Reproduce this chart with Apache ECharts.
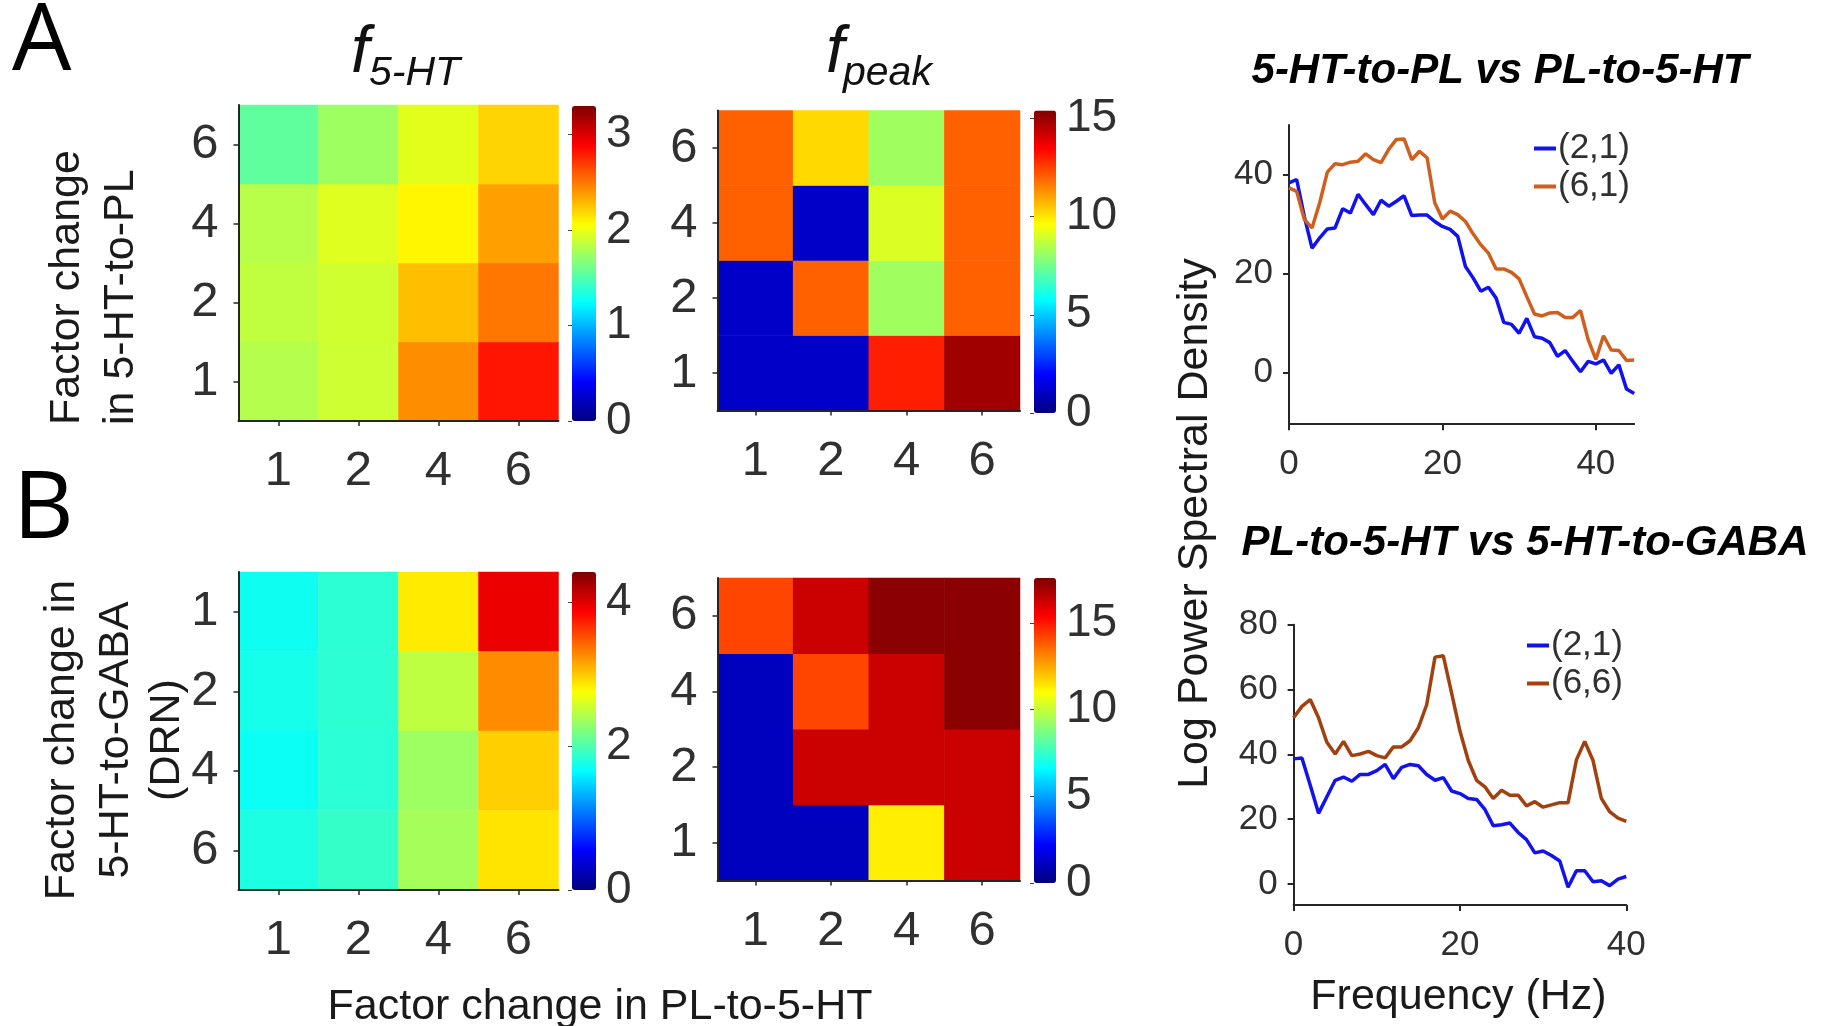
<!DOCTYPE html>
<html><head><meta charset="utf-8">
<script src="https://cdn.jsdelivr.net/npm/echarts@6/dist/echarts.min.js"></script>
<style>html,body{margin:0;padding:0;background:#fff}#c{width:1824px;height:1026px}</style>
</head><body><div id="c"></div>
<script>
// ---------------- data ----------------
const heatCols = ['1', '2', '4', '6'];   // Factor change in PL-to-5-HT
const heatRows = ['1', '2', '4', '6'];   // rows in this order, columns in heatCols order

const f5htA = [
  [1.82, 1.90, 2.43, 2.82],
  [1.86, 1.91, 2.27, 2.50],
  [1.83, 1.96, 2.09, 2.37],
  [1.55, 1.75, 1.97, 2.20]
];
const fpeakA = [
  [1.1, 1.1, 13.0, 14.9],
  [1.1, 12.0, 8.2, 12.0],
  [12.0, 1.1, 9.1, 12.0],
  [12.0, 10.2, 8.2, 12.0]
];
const f5htB = [
  [1.72, 1.85, 2.85, 3.95],
  [1.75, 1.85, 2.48, 3.26],
  [1.70, 1.84, 2.34, 2.97],
  [1.78, 1.89, 2.38, 2.88]
];
const fpeakB = [
  [1.1, 1.1, 11.3, 16.3],
  [1.1, 16.3, 16.3, 16.3],
  [1.1, 14.2, 16.3, 17.4],
  [14.2, 16.3, 17.4, 17.4]
];
const cbMaxes = [3.3, 15.4, 4.42, 17.6];
const cbTicksF5htA = [0, 1, 2, 3];
const cbTicksFpeak = [0, 5, 10, 15];
const cbTicksF5htB = [0, 2, 4];

const freqA = [0,1,2,3,4,5,6,7,8,9,10,11,12,13,14,15,16,17,18,19,20,21,22,23,24,25,26,27,28,29,30,31,32,33,34,35,36,37,38,39,40,41,42,43,44,45];
const psdA21 = [38.3,39,31.5,25.1,27.2,29,29.2,33.1,32.2,36,33.9,31.9,34.8,33.6,34.6,35.7,31.7,31.8,31.8,30.5,29.5,28.9,27.5,21.4,19.1,16.4,17.2,15,10.1,9.7,7.9,10.9,7.2,6.9,6,3.2,4.4,2.2,0.1,2.2,1.7,2.5,-0.2,1.5,-3.4,-4.3];
const psdA61 = [37.3,36.6,30.9,29.2,34.3,40.5,42.2,42,42.5,42.7,44.2,43,42.4,45.1,47.1,47.2,43,44.7,43.4,34.3,31,32.6,31.9,30.5,28,25.8,24.1,20.9,20.9,20.2,18.9,15.3,11.8,11.4,12,12.1,11.1,11.1,12.5,6.6,2.6,7.4,4.5,4.4,2.4,2.5];
const freqB = [0,1,2,3,4,5,6,7,8,9,10,11,12,13,14,15,16,17,18,19,20,21,22,23,24,25,26,27,28,29,30,31,32,33,34,35,36,37,38,39,40];
const psdB21 = [38.6,38.9,30.5,21.8,26.9,32,33,31.7,33.8,33.8,35,36.9,32.5,36,36.9,36.5,33.8,32,32.8,28.7,27.9,26.4,26.1,23,18,18.3,18.8,15.9,13.7,9.6,10.2,8.8,7.1,-1,4.1,4.1,0.7,1,-0.5,1.5,2.3];
const psdB66 = [51.3,54.8,56.9,51.3,43.7,40.1,44,39.6,40.1,40.9,39.6,38.9,42.3,42.3,44.2,48.2,55.3,70,70.4,58.9,47.2,38.1,32,30,26.4,28.9,27.4,27.4,24.1,25.4,23.7,24.4,25.1,25.1,38.3,44,38.1,26.4,22.3,20.3,19.3];
const freqTicks = [0, 20, 40];
const psdTicksA = [0, 20, 40];
const psdTicksB = [0, 20, 40, 60, 80];

// ---------------- styling ----------------
function hasFont(name) {
  const c = document.createElement('canvas').getContext('2d');
  const s = 'abcdefgWWWiii1234567890';
  c.font = '40px monospace'; const w1 = c.measureText(s).width;
  c.font = '40px "' + name + '", monospace'; const w2 = c.measureText(s).width;
  return Math.abs(w1 - w2) > 0.5;
}
const SANS = "'Liberation Sans', Arial, sans-serif";
const narrowOK = hasFont('Liberation Sans Narrow');
const NF = narrowOK ? "'Liberation Sans Narrow', 'Liberation Sans', sans-serif" : SANS;
const nk = narrowOK ? 1.08 : 0.97;
const HT = Math.round(50 * nk), CB = Math.round(47 * nk), LT = Math.round(36 * nk), LG = Math.round(36 * nk);
const AX = '#262626', LBL = '#303030';
const JET = ['#00007F', '#0000FF', '#007FFF', '#00FFFF', '#7FFF7F', '#FFFF00', '#FF7F00', '#FF0000', '#7F0000'];
const BLUE = '#1212EE', ORANGE = '#CF5F1E', BROWN = '#A3400F';

function cells(m) {
  const out = [];
  m.forEach((row, yi) => row.forEach((v, xi) => out.push([xi, yi, v])));
  return out;
}

const heatGrids = [
  { left: 238.5, top: 105, width: 320, height: 316 },
  { left: 717.5, top: 110.5, width: 302.5, height: 300 },
  { left: 238.5, top: 572, width: 320, height: 318 },
  { left: 717.5, top: 578, width: 302.5, height: 302.5 }
];
const lineGrids = [
  { left: 1289, top: 125.1, width: 345.2, height: 299.1 },
  { left: 1293.6, top: 624.7, width: 332.7, height: 280.3 }
];
const cbGrids = [
  { left: 572, top: 106, width: 24, height: 315 },
  { left: 1034, top: 110.5, width: 22, height: 302.5 },
  { left: 572, top: 572, width: 24, height: 318 },
  { left: 1034, top: 578, width: 22, height: 305 }
];
const cbTicks = [cbTicksF5htA, cbTicksFpeak, cbTicksF5htB, cbTicksFpeak];
const heatData = [f5htA, fpeakA, f5htB, fpeakB];

const grids = [].concat(heatGrids, lineGrids, cbGrids).map(g => Object.assign({ containLabel: false }, g));
const xAxes = [], yAxes = [];
heatGrids.forEach((g, i) => {
  xAxes.push({
    gridIndex: i, type: 'category', data: heatCols, z: 10,
    axisLine: { show: true, lineStyle: { color: AX, width: 2 } },
    axisTick: { show: true, alignWithLabel: true, length: 5, lineStyle: { color: AX, width: 1.5 } },
    axisLabel: { fontSize: HT, fontFamily: NF, color: LBL, margin: 26 },
    splitLine: { show: false }
  });
  yAxes.push({
    gridIndex: i, type: 'category', data: heatRows, inverse: i === 2, z: 10,
    axisLine: { show: true, lineStyle: { color: AX, width: 2 } },
    axisTick: { show: true, alignWithLabel: true, length: 5, lineStyle: { color: AX, width: 1.5 } },
    axisLabel: { fontSize: HT, fontFamily: NF, color: LBL, margin: 20, padding: [11, 0, 0, 0] },
    splitLine: { show: false }
  });
});
[[45, -10.5, 50, psdTicksA], [40, -6.48, 80, psdTicksB]].forEach((a, k) => {
  const gi = 4 + k;
  xAxes.push({
    gridIndex: gi, type: 'value', min: 0, max: a[0],
    axisLine: { show: true, onZero: false, lineStyle: { color: AX, width: 2 } },
    axisTick: { show: true, customValues: freqTicks, length: 6, lineStyle: { color: AX, width: 2 } },
    axisLabel: { customValues: freqTicks, fontSize: LT, fontFamily: NF, color: LBL, margin: 23 },
    splitLine: { show: false }
  });
  yAxes.push({
    gridIndex: gi, type: 'value', min: a[1], max: a[2],
    axisLine: { show: true, onZero: false, lineStyle: { color: AX, width: 2 } },
    axisTick: { show: true, customValues: a[3], length: 6, lineStyle: { color: AX, width: 2 } },
    axisLabel: { customValues: a[3], fontSize: LT, fontFamily: NF, color: LBL, margin: 16 },
    splitLine: { show: false }
  });
});
cbGrids.forEach((g, k) => {
  const gi = 6 + k;
  xAxes.push({ gridIndex: gi, type: 'value', show: false });
  yAxes.push({
    gridIndex: gi, type: 'value', min: 0, max: cbMaxes[k], position: 'right', z: 10,
    axisLine: { show: false },
    axisTick: { show: true, inside: true, length: 4, customValues: cbTicks[k], lineStyle: { color: '#444', width: 1 } },
    axisLabel: { customValues: cbTicks[k], fontSize: CB, fontFamily: NF, color: LBL, margin: 10, padding: [10, 0, 0, 0] },
    splitLine: { show: false }
  });
});

const series = heatData.map((m, i) => ({
  type: 'heatmap', xAxisIndex: i, yAxisIndex: i, data: cells(m),
  emphasis: { disabled: true }, progressive: 0
}));
function lineSeries(name, ax, xs, ys, color) {
  return {
    type: 'line', name: name, xAxisIndex: ax, yAxisIndex: ax,
    data: xs.map((x, i) => [x, ys[i]]),
    showSymbol: false, symbol: 'none',
    lineStyle: { width: 3.5, color: color }, itemStyle: { color: color },
    emphasis: { disabled: true }
  };
}
series.push(lineSeries('(2,1)', 4, freqA, psdA21, BLUE));
series.push(lineSeries('(6,1)', 4, freqA, psdA61, ORANGE));
series.push(lineSeries('(2,1)', 5, freqB, psdB21, BLUE));
series.push(lineSeries('(6,6)', 5, freqB, psdB66, BROWN));

const visualMaps = cbGrids.map((g, k) => ({
  type: 'continuous', seriesIndex: k, dimension: 2, min: 0, max: cbMaxes[k],
  calculable: false, realtime: false, hoverLink: false, show: true,
  left: g.left, top: g.top, itemWidth: g.width, itemHeight: g.height, padding: 0,
  text: null, inRange: { color: JET }
}));

const legendBase = {
  orient: 'vertical', icon: 'rect', itemWidth: 22, itemHeight: 4, itemGap: 3, padding: 0,
  selectedMode: false,
  textStyle: { fontSize: LG, fontFamily: NF, color: LBL, padding: [0, 0, 0, -3] }
};
const legends = [
  Object.assign({}, legendBase, { data: ['(2,1)', '(6,1)'], left: 1534, top: 131 }),
  Object.assign({}, legendBase, { data: ['(2,1)', '(6,6)'], left: 1527, top: 628 })
];

function txt(t, x, y, font, opts) {
  opts = opts || {};
  return {
    type: 'text', x: x, y: y, rotation: opts.rot || 0, z: 20, silent: true,
    style: Object.assign({
      text: t, font: font, fill: opts.fill || '#111',
      align: opts.align || 'center', verticalAlign: 'middle'
    }, opts.style || {})
  };
}
const AXT = "43px 'Liberation Sans', Arial, sans-serif";
const TTL = "italic bold 42px 'Liberation Sans', Arial, sans-serif";
const PNL = "94px 'Open Sans', 'Liberation Sans', sans-serif";
const graphics = [
  txt('A', 12, 43, PNL, { align: 'left', fill: '#000' }),
  txt('B', 13, 511, PNL, { align: 'left', fill: '#000' }),
  txt('f', 351, 54, "italic 66px 'Liberation Sans', Arial, sans-serif", { align: 'left', fill: '#111' }),
  txt('5-HT', 369, 74, "italic 41px 'Liberation Sans', Arial, sans-serif", { align: 'left', fill: '#111' }),
  txt('f', 826, 54, "italic 66px 'Liberation Sans', Arial, sans-serif", { align: 'left', fill: '#111' }),
  txt('peak', 843, 74, "italic 41px 'Liberation Sans', Arial, sans-serif", { align: 'left', fill: '#111' }),
  txt('5-HT-to-PL vs PL-to-5-HT', 1500, 71, TTL, { fill: '#000' }),
  txt('PL-to-5-HT vs 5-HT-to-GABA', 1525, 543.5, TTL, { fill: '#000' }),
  txt('Factor change', 67, 425, AXT, { rot: Math.PI / 2, align: 'left', fill: '#1a1a1a' }),
  txt('in 5-HT-to-PL', 121, 425, AXT, { rot: Math.PI / 2, align: 'left', fill: '#1a1a1a' }),
  txt('Factor change in', 62, 740, AXT, { rot: Math.PI / 2, fill: '#1a1a1a' }),
  txt('5-HT-to-GABA', 116, 740, AXT, { rot: Math.PI / 2, fill: '#1a1a1a' }),
  txt('(DRN)', 167, 740, AXT, { rot: Math.PI / 2, fill: '#1a1a1a' }),
  txt('Log Power Spectral Density', 1195, 523.5, AXT, { rot: Math.PI / 2, fill: '#1a1a1a' }),
  txt('Factor change in PL-to-5-HT', 600, 1007, AXT, { fill: '#1a1a1a' }),
  txt('Frequency (Hz)', 1458.5, 997, AXT, { fill: '#1a1a1a' })
];

const chart = echarts.init(document.getElementById('c'), null, { renderer: 'canvas' });
chart.setOption({
  backgroundColor: '#ffffff',
  animation: false,
  textStyle: { fontFamily: SANS },
  grid: grids,
  xAxis: xAxes,
  yAxis: yAxes,
  visualMap: visualMaps,
  legend: legends,
  series: series,
  graphic: graphics
});
</script>
</body></html>
